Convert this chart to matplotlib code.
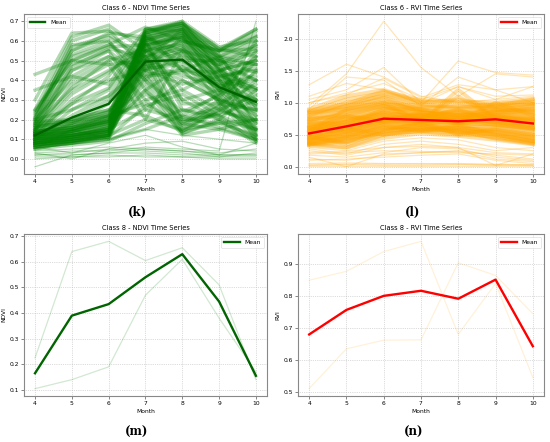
import matplotlib.pyplot as plt
import numpy as np

months = [4, 5, 6, 7, 8, 9, 10]

# Class 6 NDVI: hand-read sample of the pixel series (dense core)
ndvi_6 = [
    [0.08, 0.10, 0.12, 0.62, 0.66, 0.52, 0.62],
    [0.10, 0.12, 0.15, 0.65, 0.68, 0.55, 0.65],
    [0.07, 0.09, 0.11, 0.58, 0.63, 0.48, 0.58],
    [0.12, 0.14, 0.18, 0.66, 0.69, 0.56, 0.66],
    [0.09, 0.11, 0.14, 0.60, 0.64, 0.50, 0.55],
    [0.11, 0.13, 0.17, 0.55, 0.60, 0.45, 0.50],
    [0.06, 0.08, 0.10, 0.52, 0.58, 0.42, 0.45],
    [0.08, 0.10, 0.13, 0.63, 0.67, 0.40, 0.20],
    [0.10, 0.13, 0.16, 0.60, 0.65, 0.35, 0.15],
    [0.12, 0.15, 0.20, 0.64, 0.70, 0.45, 0.25],
    [0.07, 0.09, 0.12, 0.56, 0.62, 0.30, 0.12],
    [0.14, 0.16, 0.22, 0.50, 0.55, 0.28, 0.10],
    [0.18, 0.55, 0.62, 0.50, 0.15, 0.25, 0.45],
    [0.22, 0.60, 0.66, 0.45, 0.13, 0.20, 0.35],
    [0.15, 0.48, 0.55, 0.40, 0.18, 0.30, 0.55],
    [0.25, 0.62, 0.68, 0.55, 0.20, 0.18, 0.20],
    [0.20, 0.58, 0.60, 0.35, 0.12, 0.15, 0.10],
    [0.30, 0.64, 0.65, 0.60, 0.25, 0.22, 0.30],
    [0.15, 0.35, 0.45, 0.55, 0.45, 0.40, 0.35],
    [0.12, 0.30, 0.40, 0.45, 0.50, 0.35, 0.30],
    [0.20, 0.40, 0.50, 0.30, 0.35, 0.45, 0.50],
    [0.18, 0.45, 0.55, 0.25, 0.40, 0.30, 0.25],
    [0.10, 0.25, 0.35, 0.60, 0.30, 0.20, 0.15],
    [0.25, 0.50, 0.48, 0.20, 0.55, 0.50, 0.40],
    [0.35, 0.42, 0.38, 0.65, 0.45, 0.52, 0.60],
    [0.43, 0.50, 0.58, 0.67, 0.60, 0.55, 0.62],
    [0.08, 0.10, 0.12, 0.20, 0.15, 0.18, 0.12],
    [0.10, 0.12, 0.15, 0.25, 0.20, 0.22, 0.15],
    [0.06, 0.08, 0.10, 0.15, 0.22, 0.16, 0.10],
    [0.12, 0.14, 0.20, 0.30, 0.14, 0.25, 0.18],
    [0.05, 0.07, 0.09, 0.18, 0.25, 0.20, 0.08],
    [0.13, 0.16, 0.22, 0.35, 0.18, 0.15, 0.20],
    [0.09, 0.12, 0.14, 0.66, 0.70, 0.57, 0.60],
    [0.11, 0.14, 0.18, 0.62, 0.66, 0.48, 0.40],
    [0.08, 0.11, 0.16, 0.50, 0.66, 0.55, 0.66],
    [0.13, 0.18, 0.24, 0.45, 0.62, 0.52, 0.48],
    [0.16, 0.20, 0.25, 0.40, 0.56, 0.40, 0.30],
    [0.07, 0.10, 0.14, 0.48, 0.52, 0.35, 0.22],
    [0.06, 0.08, 0.11, 0.47, 0.50, 0.38, 0.28],
    [0.09, 0.11, 0.13, 0.52, 0.56, 0.44, 0.18],
    [0.11, 0.12, 0.16, 0.58, 0.61, 0.47, 0.22],
    [0.13, 0.15, 0.19, 0.61, 0.64, 0.50, 0.15],
    [0.15, 0.17, 0.21, 0.63, 0.68, 0.53, 0.26],
    [0.17, 0.18, 0.23, 0.59, 0.62, 0.46, 0.12],
    [0.07, 0.10, 0.13, 0.54, 0.59, 0.43, 0.33],
    [0.10, 0.11, 0.14, 0.57, 0.64, 0.54, 0.63],
    [0.12, 0.13, 0.17, 0.61, 0.67, 0.51, 0.58],
    [0.14, 0.16, 0.19, 0.64, 0.69, 0.56, 0.52],
    [0.08, 0.09, 0.12, 0.49, 0.54, 0.41, 0.09],
    [0.16, 0.19, 0.24, 0.55, 0.58, 0.33, 0.14],
    [0.19, 0.20, 0.25, 0.22, 0.14, 0.24, 0.20],
    [0.18, 0.19, 0.22, 0.28, 0.17, 0.28, 0.25],
    [0.09, 0.14, 0.19, 0.33, 0.21, 0.26, 0.16],
    [0.11, 0.15, 0.21, 0.38, 0.13, 0.19, 0.11],
    [0.17, 0.52, 0.58, 0.48, 0.16, 0.27, 0.50],
    [0.21, 0.57, 0.63, 0.52, 0.19, 0.23, 0.40],
    [0.14, 0.45, 0.52, 0.42, 0.22, 0.33, 0.60],
    [0.24, 0.50, 0.57, 0.58, 0.50, 0.50, 0.48],
    [0.13, 0.20, 0.30, 0.52, 0.60, 0.55, 0.56],
    [0.10, 0.18, 0.28, 0.62, 0.55, 0.38, 0.28],
    [0.15, 0.28, 0.42, 0.66, 0.65, 0.45, 0.35],
    [0.05, 0.09, 0.12, 0.46, 0.48, 0.31, 0.19],
    [0.08, 0.12, 0.15, 0.35, 0.47, 0.36, 0.27],
    [0.12, 0.16, 0.20, 0.43, 0.45, 0.29, 0.13],
    [0.20, 0.25, 0.32, 0.58, 0.62, 0.42, 0.36],
    [0.07, 0.09, 0.11, 0.27, 0.33, 0.22, 0.09],
    [0.14, 0.38, 0.48, 0.50, 0.42, 0.38, 0.42],
    [0.16, 0.42, 0.52, 0.45, 0.38, 0.42, 0.46],
    [0.19, 0.47, 0.56, 0.52, 0.30, 0.35, 0.52],
    [0.13, 0.33, 0.44, 0.58, 0.28, 0.28, 0.38],
    [0.21, 0.53, 0.60, 0.40, 0.24, 0.32, 0.44],
    [0.12, 0.28, 0.36, 0.62, 0.52, 0.48, 0.54],
    [0.17, 0.36, 0.50, 0.56, 0.35, 0.25, 0.32],
    [0.23, 0.55, 0.64, 0.62, 0.45, 0.44, 0.57],
    [0.11, 0.22, 0.32, 0.48, 0.40, 0.30, 0.24],
    [0.10, 0.14, 0.18, 0.55, 0.63, 0.40, 0.48],
    [0.09, 0.12, 0.15, 0.60, 0.66, 0.46, 0.36],
    [0.13, 0.15, 0.19, 0.64, 0.68, 0.50, 0.44],
    [0.08, 0.11, 0.14, 0.50, 0.57, 0.37, 0.40],
    [0.06, 0.08, 0.12, 0.42, 0.44, 0.33, 0.52],
    [0.14, 0.17, 0.22, 0.65, 0.69, 0.52, 0.30],
]
# Class 6 NDVI: thin stray series (bare soil / water near zero)
ndvi_6_stray = [
    [0.02, 0.02, 0.03, 0.03, 0.02, 0.02, 0.02],
    [0.01, 0.01, 0.01, 0.02, 0.01, 0.01, 0.01],
    [0.03, 0.00, 0.05, 0.04, 0.03, 0.01, 0.03],
    [0.04, 0.05, 0.06, 0.05, 0.04, 0.03, 0.05],
    [0.00, 0.01, 0.02, 0.01, 0.01, 0.00, 0.00],
    [-0.04, 0.02, 0.03, 0.05, 0.04, 0.02, 0.02],
    [0.06, 0.03, 0.08, 0.12, 0.06, 0.02, 0.08],
    [0.05, 0.15, 0.10, 0.15, 0.12, 0.10, 0.08],
    [0.03, 0.04, 0.04, 0.06, 0.05, 0.04, 0.70],
    [0.02, 0.03, 0.05, 0.08, 0.09, 0.05, 0.04],
]
ndvi_6_mean = [0.12, 0.21, 0.28, 0.495, 0.505, 0.365, 0.29]

# Class 6 RVI sample (dense core)
rvi_6 = [
    [0.45, 0.55, 0.70, 0.75, 0.70, 0.72, 0.65],
    [0.55, 0.65, 0.80, 0.70, 0.75, 0.80, 0.70],
    [0.60, 0.75, 0.90, 0.80, 0.85, 0.85, 0.80],
    [0.40, 0.50, 0.60, 0.65, 0.60, 0.65, 0.55],
    [0.70, 0.85, 0.95, 0.90, 0.80, 0.90, 0.85],
    [0.35, 0.40, 0.55, 0.60, 0.55, 0.55, 0.45],
    [0.80, 1.00, 1.10, 0.95, 0.95, 0.95, 1.00],
    [0.50, 0.60, 0.75, 0.80, 0.70, 0.75, 0.75],
    [0.65, 0.70, 0.85, 0.75, 0.90, 0.70, 0.60],
    [0.90, 1.10, 1.20, 1.00, 1.05, 0.95, 1.05],
    [0.38, 0.45, 0.65, 0.55, 0.65, 0.50, 0.40],
    [0.75, 0.80, 0.70, 0.85, 0.65, 0.80, 0.90],
    [0.55, 0.90, 1.00, 0.70, 1.20, 0.75, 0.70],
    [0.48, 0.35, 0.55, 0.70, 0.50, 0.60, 0.50],
    [0.60, 0.55, 0.70, 0.65, 0.75, 0.65, 0.60],
    [0.85, 0.95, 1.05, 0.85, 0.80, 0.85, 0.95],
    [0.42, 0.60, 0.50, 0.60, 0.55, 0.45, 0.38],
    [0.70, 0.65, 0.90, 0.90, 0.70, 1.00, 0.80],
    [0.52, 0.72, 0.85, 0.78, 0.82, 0.78, 0.72],
    [0.62, 0.82, 0.95, 0.82, 0.72, 0.88, 0.88],
    [0.33, 0.30, 0.45, 0.52, 0.48, 0.42, 0.35],
    [0.50, 0.58, 0.72, 0.72, 0.68, 0.70, 0.62],
    [0.58, 0.68, 0.78, 0.74, 0.73, 0.76, 0.72],
    [0.62, 0.72, 0.88, 0.85, 0.80, 0.82, 0.78],
    [0.44, 0.52, 0.66, 0.68, 0.64, 0.62, 0.52],
    [0.72, 0.88, 1.00, 0.88, 0.86, 0.92, 0.90],
    [0.36, 0.42, 0.58, 0.58, 0.58, 0.52, 0.42],
    [0.78, 0.95, 1.12, 0.98, 0.92, 0.98, 1.02],
    [0.47, 0.62, 0.78, 0.76, 0.74, 0.70, 0.66],
    [0.66, 0.74, 0.82, 0.79, 0.88, 0.72, 0.64],
    [0.86, 1.05, 1.15, 1.02, 1.00, 0.93, 0.98],
    [0.39, 0.47, 0.62, 0.57, 0.62, 0.54, 0.44],
    [0.74, 0.78, 0.72, 0.82, 0.68, 0.84, 0.92],
    [0.54, 0.80, 0.95, 0.72, 1.10, 0.76, 0.74],
    [0.46, 0.38, 0.58, 0.66, 0.52, 0.58, 0.48],
    [0.82, 0.92, 1.08, 0.88, 0.84, 0.88, 0.96],
    [0.56, 0.66, 0.84, 0.80, 0.78, 0.80, 0.82],
    [0.68, 0.78, 0.92, 0.86, 0.76, 0.86, 0.84],
    [0.42, 0.50, 0.62, 0.62, 0.58, 0.50, 0.40],
    [0.88, 0.98, 1.18, 1.04, 1.02, 1.00, 1.06],
    [0.35, 0.45, 0.52, 0.55, 0.50, 0.48, 0.36],
    [0.64, 0.60, 0.76, 0.70, 0.80, 0.68, 0.58],
    [0.76, 0.86, 0.98, 0.92, 0.94, 0.90, 0.86],
    [0.34, 0.38, 0.50, 0.56, 0.54, 0.50, 0.40],
    [0.37, 0.44, 0.56, 0.62, 0.60, 0.56, 0.46],
    [0.41, 0.48, 0.64, 0.64, 0.60, 0.58, 0.50],
    [0.43, 0.55, 0.68, 0.70, 0.66, 0.66, 0.58],
    [0.53, 0.62, 0.74, 0.74, 0.72, 0.74, 0.68],
    [0.57, 0.64, 0.76, 0.76, 0.76, 0.78, 0.76],
    [0.84, 0.90, 1.02, 0.94, 0.90, 0.94, 0.98],
    [0.60, 0.70, 0.82, 0.78, 0.80, 0.80, 0.74],
    [0.48, 0.54, 0.70, 0.68, 0.68, 0.66, 0.60],
    [0.36, 0.30, 0.50, 0.58, 0.56, 0.44, 0.36],
]
# Class 6 RVI: thin stray series (outliers and very low values)
rvi_6_stray = [
    [1.00, 1.15, 1.30, 1.05, 1.25, 1.05, 1.10],
    [1.28, 1.60, 1.40, 1.10, 1.00, 1.05, 1.25],
    [0.95, 1.45, 2.27, 1.55, 1.10, 1.45, 1.40],
    [1.05, 1.20, 1.55, 1.00, 1.65, 1.47, 1.43],
    [0.90, 1.40, 1.35, 0.95, 1.40, 1.20, 1.00],
    [1.10, 1.30, 1.20, 0.98, 1.25, 1.10, 1.12],
    [1.00, 1.12, 1.38, 1.08, 1.28, 1.20, 1.25],
    [0.20, 0.22, 0.25, 0.24, 0.22, 0.20, 0.18],
    [0.25, 0.18, 0.30, 0.35, 0.30, 0.02, 0.20],
    [0.15, 0.00, 0.20, 0.22, 0.25, 0.18, 0.12],
    [0.02, 0.03, 0.02, 0.02, 0.03, 0.02, 0.02],
    [0.05, 0.06, 0.05, 0.04, 0.05, 0.04, 0.03],
    [0.30, 0.25, 0.40, 0.45, 0.42, 0.30, 0.25],
    [0.10, 0.12, 0.15, 0.18, 0.20, 0.10, 0.05],
    [0.28, 0.20, 0.35, 0.40, 0.35, 0.25, 0.30],
    [0.18, 0.15, 0.22, 0.30, 0.28, 0.15, 0.10],
    [0.01, 0.01, 0.01, 0.01, 0.01, 0.01, 0.01],
    [0.12, 0.10, 0.18, 0.22, 0.24, 0.12, 0.08],
    [0.22, 0.24, 0.30, 0.32, 0.30, 0.22, 0.20],
    [0.03, 0.04, 0.04, 0.05, 0.04, 0.03, 0.03],
]
rvi_6_mean = [0.52, 0.63, 0.75, 0.73, 0.71, 0.74, 0.675]

# Class 8: only two series
ndvi_8 = [
    [0.225, 0.64, 0.68, 0.605, 0.655, 0.51, 0.14],
    [0.105, 0.14, 0.19, 0.47, 0.61, 0.38, 0.17],
]
ndvi_8_mean = [0.165, 0.39, 0.435, 0.54, 0.63, 0.445, 0.155]

rvi_8 = [
    [0.85, 0.878, 0.94, 0.972, 0.68, 0.84, 0.545],
    [0.51, 0.635, 0.662, 0.663, 0.905, 0.865, 0.745],
]
rvi_8_mean = [0.68, 0.757, 0.801, 0.817, 0.792, 0.852, 0.643]


def panel(ax, series, mean, title, ylabel, color, mean_color, legend_loc,
          alpha, lw, stray=()):
    for s in stray:
        ax.plot(months, s, color=color, alpha=0.28, linewidth=0.9)
    for s in series:
        ax.plot(months, s, color=color, alpha=alpha, linewidth=lw)
    ax.plot(months, mean, color=mean_color, linewidth=1.7, label='Mean')
    ax.set_title(title, fontsize=4.8, pad=3)
    ax.set_xlabel('Month', fontsize=4.3, labelpad=2)
    ax.set_ylabel(ylabel, fontsize=4.3, labelpad=2)
    ax.set_xticks(months)
    ax.tick_params(labelsize=4.3, length=2, width=0.5, pad=1.5,
                   color='#555555')
    ax.grid(True, linestyle=':', linewidth=0.5, color='#bbbbbb')
    for sp in ax.spines.values():
        sp.set_color('#888888')
        sp.set_linewidth(0.8)
    leg = ax.legend(loc=legend_loc, fontsize=4.3, handlelength=2.6,
                    borderpad=0.5, framealpha=0.8)
    leg.get_frame().set_linewidth(0.4)


fig = plt.figure(figsize=(5.5, 4.42), dpi=100)

ax_k = fig.add_axes([0.0436, 0.6063, 0.4418, 0.362])
ax_l = fig.add_axes([0.5418, 0.6063, 0.4473, 0.362])
ax_m = fig.add_axes([0.0436, 0.1041, 0.4418, 0.3665])
ax_n = fig.add_axes([0.5418, 0.1041, 0.4473, 0.3665])

panel(ax_k, ndvi_6, ndvi_6_mean, 'Class 6 - NDVI Time Series', 'NDVI',
      'green', 'darkgreen', 'upper left', 0.3, 2.4, ndvi_6_stray)
panel(ax_l, rvi_6, rvi_6_mean, 'Class 6 - RVI Time Series', 'RVI',
      'orange', 'red', 'upper right', 0.35, 2.8, rvi_6_stray)
panel(ax_m, ndvi_8, ndvi_8_mean, 'Class 8 - NDVI Time Series', 'NDVI',
      'green', 'darkgreen', 'upper right', 0.18, 0.9)
panel(ax_n, rvi_8, rvi_8_mean, 'Class 8 - RVI Time Series', 'RVI',
      'orange', 'red', 'upper right', 0.15, 0.9)

ax_k.set_yticks(np.arange(0, 0.71, 0.1))
ax_l.set_yticks(np.arange(0, 2.01, 0.5))

# subfigure captions
for x, y, lab in [(137, 212, '(k)'), (413, 212, '(l)'),
                  (137, 432, '(m)'), (414, 432, '(n)')]:
    fig.text(x / 550, 1 - y / 442, lab, ha='center', va='center',
             fontsize=8.5, fontweight='bold', family='DejaVu Serif')

fig.savefig('out.png', dpi=100)
